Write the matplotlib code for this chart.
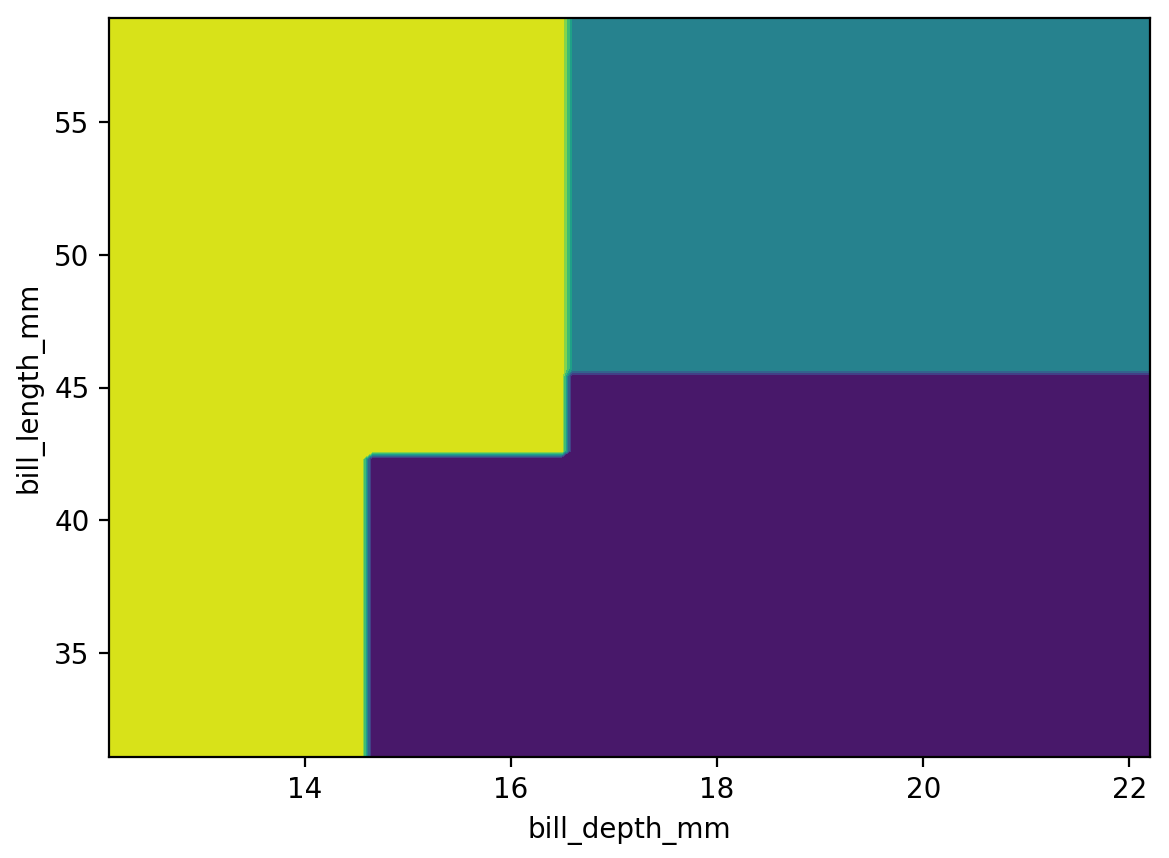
import numpy as np
import matplotlib
matplotlib.use("Agg")
import matplotlib.pyplot as plt

# decision tree splits (penguins: depth vs length)
depth_range = [12.1, 22.2]
length_range = [31.1, 58.9]
depth_split_low = 14.6    # left of this: Gentoo
depth_split_high = 16.55
length_split_mid = 42.45  # used between the two depth splits
length_split_high = 45.55 # used right of depth_split_high
classes = ["Adelie", "Chinstrap", "Gentoo"]
grid_resolution = 100


def predict(depth, length):
    out = np.zeros_like(depth, dtype=int)
    left = depth < depth_split_low
    mid = (depth >= depth_split_low) & (depth < depth_split_high)
    right = depth >= depth_split_high
    out[left] = 2
    out[mid & (length >= length_split_mid)] = 2
    out[mid & (length < length_split_mid)] = 0
    out[right & (length >= length_split_high)] = 1
    out[right & (length < length_split_high)] = 0
    return out


xx, yy = np.meshgrid(np.linspace(depth_range[0], depth_range[1], grid_resolution),
                     np.linspace(length_range[0], length_range[1], grid_resolution))
zz = predict(xx, yy)

fig = plt.figure(figsize=(1169 / 200, 858 / 200), dpi=200)
ax = fig.add_axes([109 / 1169, 1 - 757 / 858, (1150 - 109) / 1169, (757 - 18) / 858])
ax.contourf(xx, yy, zz)
ax.set_xlabel("bill_depth_mm")
ax.set_ylabel("bill_length_mm")

fig.savefig("out.png", dpi=200)
